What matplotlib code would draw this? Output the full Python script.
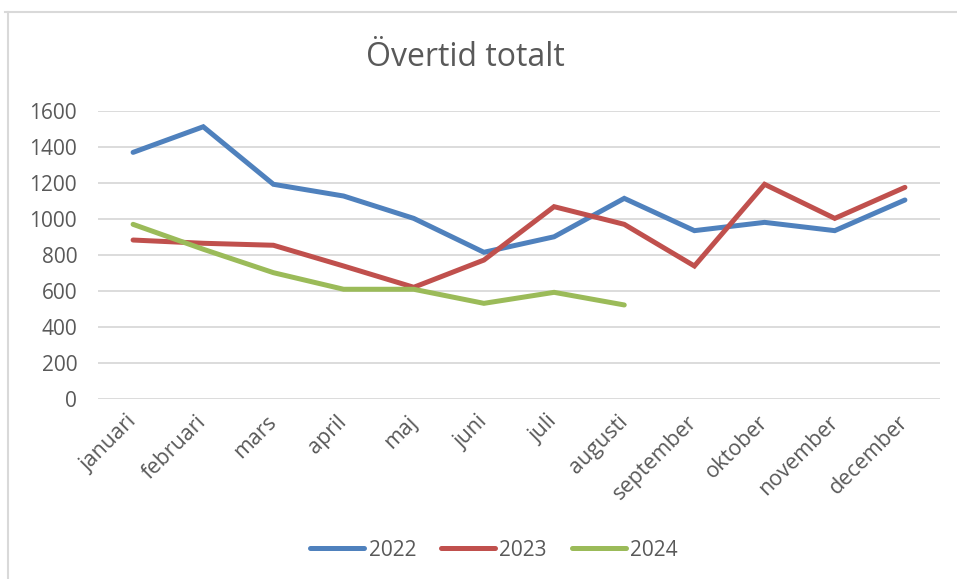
import matplotlib.pyplot as plt
from matplotlib.lines import Line2D

months = ["januari", "februari", "mars", "april", "maj", "juni", "juli",
          "augusti", "september", "oktober", "november", "december"]
y2022 = [1369, 1511, 1192, 1127, 1003, 815, 901, 1114, 935, 981, 935, 1105]
y2023 = [883, 865, 854, 739, 621, 772, 1068, 970, 739, 1192, 1003, 1175]
y2024 = [970, 832, 702, 610, 610, 532, 593, 523]
yticks = [0, 200, 400, 600, 800, 1000, 1200, 1400, 1600]

plt.rcParams['font.family'] = ['Open Sans', 'DejaVu Sans']
txt = '#595959'

W, H = 957, 579
fig = plt.figure(figsize=(W / 100, H / 100), dpi=100)
ax = fig.add_axes([98 / W, 1 - 399.3 / H, (940 - 98) / W, (399.3 - 110.7) / H])

series = [("2022", y2022, '#4F81BD'), ("2023", y2023, '#C0504D'), ("2024", y2024, '#9BBB59')]
for name, vals, col in series:
    ax.plot(range(len(vals)), vals, color=col, lw=3.6, solid_capstyle='round',
            solid_joinstyle='miter', label=name)

ax.set_xlim(-0.5, 11.5)
ax.set_ylim(0, 1600)
ax.set_yticks(yticks)
ax.set_yticklabels([str(v) for v in yticks], color=txt, fontsize=15)
ax.set_xticks(range(12))
ax.set_xticklabels(months, rotation=45, ha='right', va='center', rotation_mode='anchor',
                   color=txt, fontsize=15.5)
ax.tick_params(axis='both', length=0)
ax.tick_params(axis='y', pad=15)
ax.tick_params(axis='x', pad=14)
ax.grid(axis='y', color='#d9d9d9', lw=1.3)
ax.set_axisbelow(True)
for s in ax.spines.values():
    s.set_visible(False)

fig.text(465 / W, 1 - 57 / H, "Övertid totalt", ha='center', va='center',
         fontsize=23, color=txt)

handles = [Line2D([], [], color=c, lw=3.6, solid_capstyle='round') for _, _, c in series]
fig.legend(handles, [n for n, _, _ in series], loc='center', bbox_to_anchor=(494 / W, 1 - 550 / H),
           ncol=3, frameon=False, fontsize=15, labelcolor=txt, handlelength=2.6,
           handletextpad=0.2, columnspacing=1.2)

# chart frame (top and left edge visible)
fig.add_artist(Line2D([5 / W, 1], [1 - 12 / H, 1 - 12 / H], color='#d9d9d9', lw=1.5))
fig.add_artist(Line2D([8 / W, 8 / W], [0, 1 - 12 / H], color='#d9d9d9', lw=1.5))

fig.savefig("out.png", dpi=100)
